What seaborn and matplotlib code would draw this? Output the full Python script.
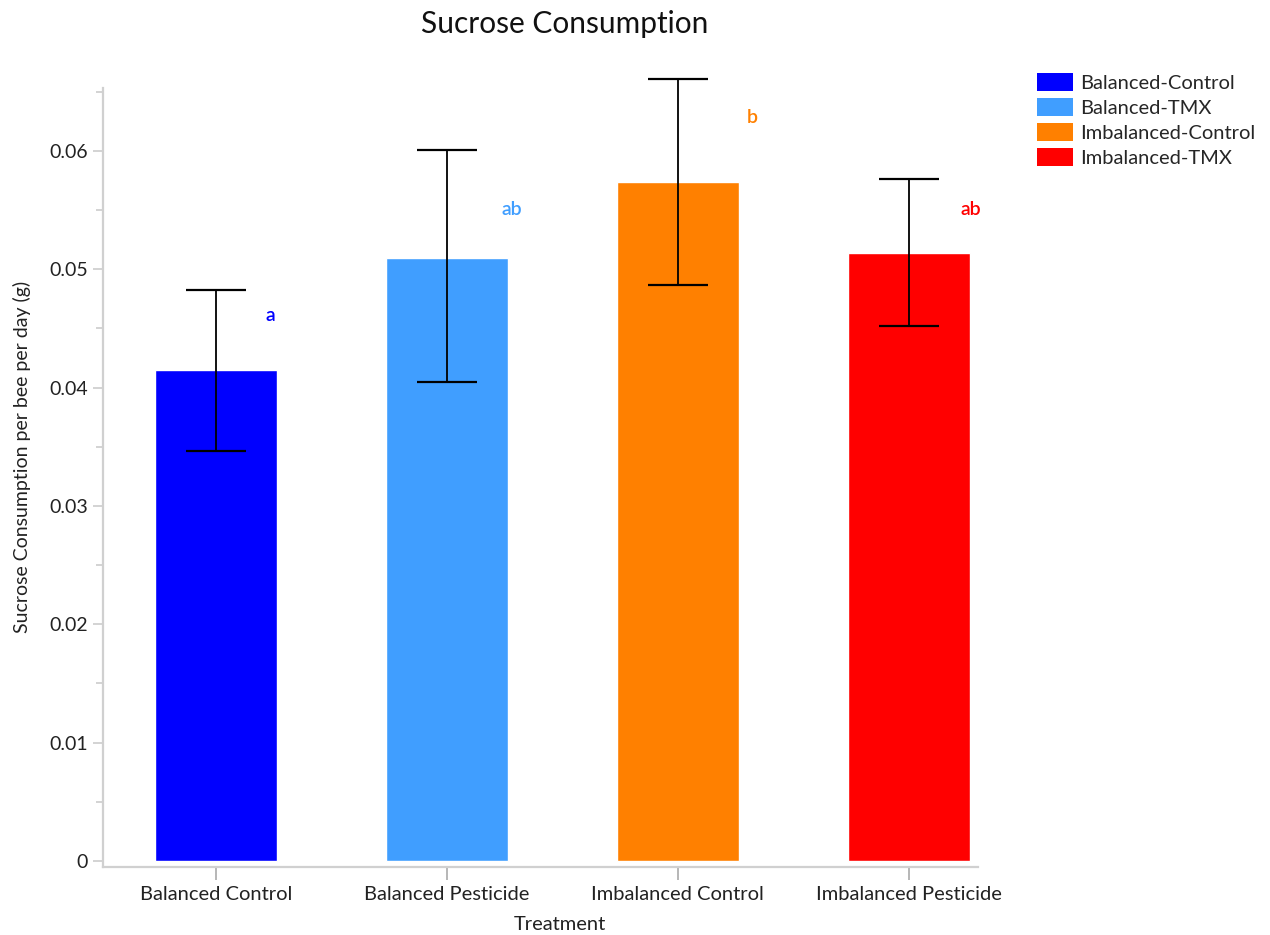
import matplotlib
matplotlib.use("Agg")
import matplotlib.pyplot as plt
import seaborn as sns
import pandas as pd
import numpy as np
from matplotlib.patches import Patch
from matplotlib.ticker import MultipleLocator

categories = ["Balanced Control", "Balanced Pesticide", "Imbalanced Control", "Imbalanced Pesticide"]
legend_labels = ["Balanced-Control", "Balanced-TMX", "Imbalanced-Control", "Imbalanced-TMX"]
means = [0.0415, 0.0509, 0.0574, 0.0514]
err_upper = [0.04825, 0.0601, 0.0661, 0.0576]
err_lower = [0.03465, 0.0405, 0.0487, 0.0452]
letters = ["a", "ab", "b", "ab"]
letter_y = [0.0461, 0.0550, 0.0628, 0.0550]
colors = ["#0000FF", "#409EFF", "#FF8000", "#FF0000"]

sns.set_theme(style="white")
plt.rcParams["font.family"] = ["Lato", "DejaVu Sans"]

df = pd.DataFrame({"Treatment": categories, "value": means})

fig = plt.figure(figsize=(12.7, 9.35), dpi=100)
ax = fig.add_axes([103/1270, 1 - 867/935, (978-103)/1270, (867-88)/935])

sns.barplot(data=df, x="Treatment", y="value", hue="Treatment", palette=colors,
            order=categories, hue_order=categories, width=0.53, legend=False,
            saturation=1, ax=ax, errorbar=None)

pos = np.arange(len(categories))
yerr = [np.array(means) - np.array(err_lower), np.array(err_upper) - np.array(means)]
eb = ax.errorbar(pos, means, yerr=yerr, fmt="none", ecolor="black", elinewidth=1.3,
                 capsize=21.5, capthick=1.6, zorder=5)
for art in eb.lines[1] + eb.lines[2]:
    art.set_clip_on(False)

offsets = [0.215, 0.235, 0.30, 0.225]
for i, (t, y) in enumerate(zip(letters, letter_y)):
    ax.text(i + offsets[i], y, t, color=colors[i], fontsize=14, ha="left", va="center",
            fontweight="semibold")

ax.set_xlim(-0.49, 3.30)
ax.set_ylim(-0.0005, 0.0653)
ax.yaxis.set_major_locator(MultipleLocator(0.01))
ax.yaxis.set_minor_locator(MultipleLocator(0.005))
ax.set_yticks([0, 0.01, 0.02, 0.03, 0.04, 0.05, 0.06])
ax.set_yticklabels(["0", "0.01", "0.02", "0.03", "0.04", "0.05", "0.06"])
ax.tick_params(axis="y", which="major", left=True, length=7, width=1.2, color="#CCCCCC",
               labelsize=14, labelcolor="#222222", pad=4)
ax.tick_params(axis="y", which="minor", left=True, length=5, width=1.2, color="#CCCCCC")
ax.tick_params(axis="x", which="major", bottom=True, length=9, width=1.2, color="#AAAAAA",
               labelsize=14.5, labelcolor="#222222", pad=5)

for s in ["top", "right"]:
    ax.spines[s].set_visible(False)
for s in ["left", "bottom"]:
    ax.spines[s].set_color("#D0D0D0")
    ax.spines[s].set_linewidth(1.6)

ax.set_xlabel("Treatment", fontsize=14.5, color="#222222")
ax.set_ylabel("Sucrose Consumption per bee per day (g)", fontsize=14, color="#222222")
ax.xaxis.set_label_coords((560 - 103) / 875, (867 - 925) / 779)
ax.xaxis.label.set_va("center")
ax.yaxis.set_label_coords((22 - 103) / 875, (867 - 457) / 779)
ax.yaxis.label.set_va("center")

fig.text(565/1270, 1 - 24/935, "Sucrose Consumption", ha="center", va="center",
         fontsize=21.5, color="#111111")

handles = [Patch(facecolor=c, edgecolor="none") for c in colors]
fig.legend(handles, legend_labels, loc="upper left", bbox_to_anchor=(1037/1270, 1 - 73/935),
           frameon=False, fontsize=14.5, handlelength=1.8, handleheight=1.0,
           handletextpad=0.35, labelspacing=0.3, borderpad=0, borderaxespad=0)

fig.savefig("out.png", dpi=100)
